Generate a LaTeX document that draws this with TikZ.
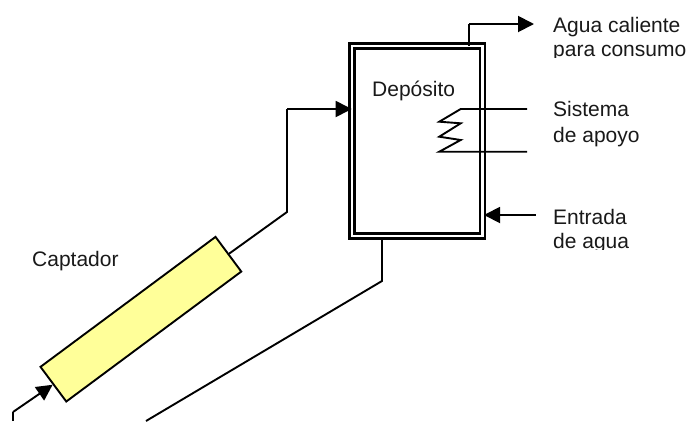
\documentclass[tikz,border=0pt]{standalone}
\usepackage{fontspec}
\setmainfont{Liberation Sans}
\usetikzlibrary{arrows.meta}
\definecolor{amarillo}{HTML}{FFFF99}
\tikzset{
  rotulo/.style={anchor=base west,inner sep=0pt,font=\fontsize{21}{25}\selectfont,text=black!90},
  bigarrow/.style={-{Triangle[length=16pt,width=16pt]}},
  linea/.style={line width=1.9pt}
}
\begin{document}
\begin{tikzpicture}[x=1pt,y=-1pt]
\useasboundingbox (0,0) rectangle (691,421);
\clip (0,0) rectangle (691,421);
% deposito y captador
\node[draw,line width=2.6pt,double,double distance=2.3pt,minimum width=130.4pt,minimum height=190.4pt,inner sep=0pt] (deposito) at (417.3,141) {};
\node[draw,linea,fill=amarillo,rotate=36.6,minimum width=218pt,minimum height=43.2pt,inner sep=0pt] (captador) at (140.9,319.2) {};
\node[rotulo] (tdeposito) at (372,96) {Depósito};
\node[rotulo] (tcaptador) at (32,266) {Captador};
% textos de la derecha
\node[rotulo] (tagua) at (553,32) {Agua caliente};
\node[rotulo] (tsistema) at (553,116.5) {Sistema};
\node[rotulo] (tapoyo) at (553,142) {de apoyo};
\node[rotulo] (tentrada) at (553,224) {Entrada};
\begin{scope}
\clip (540,40) rectangle (691,57.5);
\node[rotulo] (tconsumo) at (553,56) {para consumo};
\end{scope}
\begin{scope}
\clip (540,230) rectangle (691,249.5);
\node[rotulo] (tagua2) at (553,248) {de agua};
\end{scope}
% tuberias
\coordinate (sube) at (287,212);
\coordinate (codo) at (287,109);
\coordinate (entra) at (351.7,109);
\draw[linea] (captador.east) -- (sube) -- (codo);
\draw[linea,bigarrow] (codo) -- (entra);
\coordinate (sale) at (469,46);
\coordinate (salecodo) at (469,24);
\coordinate (salefin) at (534,24);
\draw[linea] (sale) -- (salecodo);
\draw[linea,bigarrow] (salecodo) -- (salefin);
\coordinate (aguafin) at (535.7,215);
\coordinate (aguaent) at (484,215);
\draw[linea,bigarrow] (aguafin) -- (aguaent);
\coordinate (retorno) at (382,237);
\coordinate (retcodo) at (382,281);
\coordinate (retfin) at (146,421);
\draw[linea] (retorno) -- (retcodo) -- (retfin);
\coordinate (inicio) at (13,421);
\coordinate (inicodo) at (13,412);
\draw[linea] (inicio) -- (inicodo);
\draw[linea,bigarrow] (inicodo) -- (captador.west);
% serpentin
\draw[linea] (527,109) -- (460.7,109) -- (439.3,121.7) -- (460.7,123.3) -- (439.3,136.7) -- (460.7,140) -- (439.3,151.7) -- (527,151.7);
\end{tikzpicture}
\end{document}
